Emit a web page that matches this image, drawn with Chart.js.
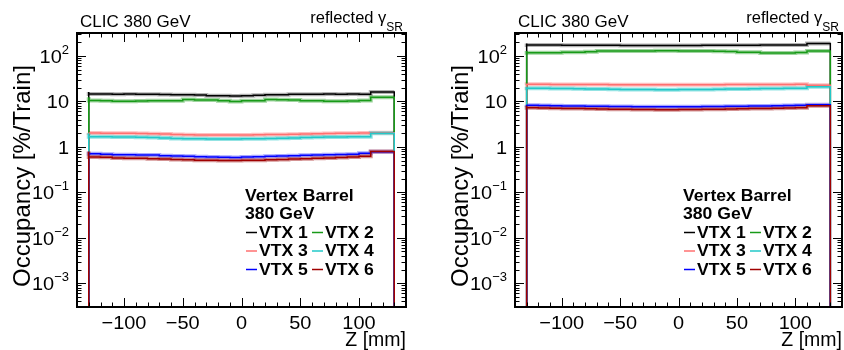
<!DOCTYPE html>
<html>
<head>
<meta charset="utf-8">
<script src="https://cdn.jsdelivr.net/npm/chart.js@4/dist/chart.umd.min.js"></script>
<style>
  body { margin: 0; background: #fff; width: 844px; height: 350px; overflow: hidden; position: relative; }
  canvas { position: absolute; top: 0; }
  #occA { left: 0; }
  #occB { left: 422px; }
</style>
</head>
<body>
<canvas id="occA" width="422" height="350"></canvas>
<canvas id="occB" width="422" height="350"></canvas>
<script>
// bin edges along z [mm], 26 bins of 10 mm
const zEdges = [-130, -120, -110, -100, -90, -80, -70, -60, -50, -40, -30, -20, -10, 0,
                10, 20, 30, 40, 50, 60, 70, 80, 90, 100, 110, 120, 130];

const layerNames = ['VTX 1', 'VTX 2', 'VTX 3', 'VTX 4', 'VTX 5', 'VTX 6'];
const layerColors = ['#000000', '#189a18', '#ff7070', '#22c8c8', '#0000ff', '#a00000'];
const bandColors = ['rgba(0,0,0,0.30)', 'rgba(40,160,40,0.45)', 'rgba(255,130,130,0.50)',
                    'rgba(40,200,200,0.50)', 'rgba(60,60,255,0.45)', 'rgba(170,40,40,0.50)'];

// occupancy [%/train], left panel
const occA_vtx1 = [16.1, 14.5, 14.6, 14.4, 14.5, 14.3, 14.4, 14.2, 14.1, 14.0, 13.9, 13.3, 13.3,
                   13.2, 13.3, 13.6, 14.0, 14.0, 14.3, 14.4, 14.4, 14.5, 14.4, 14.5, 14.4, 16.1];
const occA_vtx2 = [12.3, 10.5, 10.4, 10.1, 10.1, 10.2, 10.3, 10.3, 10.4, 11.0, 10.8, 10.7, 10.3,
                   10.0, 10.3, 10.4, 11.0, 10.9, 10.7, 10.3, 10.3, 10.1, 10.1, 10.2, 10.5, 12.3];
const occA_vtx3 = [2.05, 2.02, 2.0, 2.0, 2.0, 1.97, 1.95, 1.92, 1.88, 1.85, 1.83, 1.82, 1.82,
                   1.83, 1.82, 1.84, 1.86, 1.88, 1.9, 1.93, 1.95, 1.98, 2.0, 2.0, 2.02, 2.05];
const occA_vtx4 = [2.0, 1.66, 1.66, 1.65, 1.64, 1.62, 1.6, 1.56, 1.53, 1.5, 1.5, 1.49, 1.49,
                   1.49, 1.5, 1.5, 1.52, 1.55, 1.57, 1.6, 1.62, 1.64, 1.65, 1.66, 1.68, 2.0];
const occA_vtx5 = [0.78, 0.71, 0.69, 0.67, 0.67, 0.66, 0.66, 0.64, 0.63, 0.62, 0.61, 0.6, 0.59,
                   0.58, 0.6, 0.61, 0.62, 0.63, 0.64, 0.65, 0.66, 0.67, 0.68, 0.69, 0.72, 0.78];
const occA_vtx6 = [0.79, 0.6, 0.59, 0.57, 0.56, 0.56, 0.55, 0.54, 0.53, 0.52, 0.51, 0.51, 0.5,
                   0.5, 0.51, 0.51, 0.52, 0.53, 0.54, 0.55, 0.56, 0.57, 0.58, 0.6, 0.62, 0.79];

// occupancy [%/train], right panel
const occB_vtx1 = [187, 175, 175, 174, 173, 172, 172, 171, 171, 170, 170, 170, 170,
                   170, 170, 170, 171, 171, 172, 172, 173, 174, 174, 175, 175, 187];
const occB_vtx2 = [129, 118, 118, 118, 120, 121, 124, 128, 129, 129, 128, 129, 131,
                   131, 129, 128, 128, 127, 126, 121, 120, 116, 116, 116, 119, 129];
const occB_vtx3 = [22.6, 23.8, 23.8, 23.7, 23.7, 23.6, 23.5, 23.5, 23.4, 23.3, 23.3, 23.3, 23.2,
                   23.2, 23.3, 23.3, 23.3, 23.4, 23.5, 23.5, 23.6, 23.6, 23.7, 23.7, 23.8, 22.6];
const occB_vtx4 = [21.1, 19.4, 19.4, 19.3, 19.2, 19.0, 18.8, 18.7, 18.5, 18.4, 18.3, 18.2, 18.1,
                   18.1, 18.2, 18.3, 18.4, 18.5, 18.7, 18.8, 19.0, 19.2, 19.3, 19.4, 19.4, 21.1];
const occB_vtx5 = [8.45, 8.2, 8.1, 8.0, 7.9, 7.9, 7.8, 7.8, 7.7, 7.7, 7.6, 7.6, 7.6,
                   7.6, 7.6, 7.6, 7.7, 7.7, 7.8, 7.8, 7.9, 7.9, 8.0, 8.1, 8.2, 8.45];
const occB_vtx6 = [8.0, 7.3, 7.2, 7.1, 7.0, 7.0, 6.9, 6.8, 6.7, 6.7, 6.6, 6.6, 6.55,
                   6.55, 6.6, 6.6, 6.7, 6.7, 6.8, 6.9, 7.0, 7.0, 7.1, 7.2, 7.3, 8.0];

// axis ticks
const zTickValues = [-100, -50, 0, 50, 100];
const zTickLabels = ['\u2212100', '\u221250', '0', '50', '100'];
const yDecades = [-3, -2, -1, 0, 1, 2];

const Y_MIN = 3e-4, Y_MAX = 320, FLOOR = 1e-6;
const FONT = '"Liberation Sans", Arial, sans-serif';

// histogram outline: drops to the floor at both ends
function histPoints(vals) {
  const last = zEdges.length - 1;
  const pts = [{x: zEdges[0], y: FLOOR}];
  vals.forEach((v, i) => pts.push({x: zEdges[i], y: v}));
  pts.push({x: zEdges[last], y: vals[vals.length - 1]});
  pts.push({x: zEdges[last], y: FLOOR});
  return pts;
}
function bandPoints(vals) {
  const pts = vals.map((v, i) => ({x: zEdges[i], y: v}));
  pts.push({x: zEdges[zEdges.length - 1], y: vals[vals.length - 1]});
  return pts;
}

function put(ctx, str, x, y, size, opt) {
  opt = opt || {};
  const sx = opt.sx || 1;
  ctx.save();
  ctx.font = (opt.bold ? 'bold ' : '') + size + 'px ' + FONT;
  ctx.textBaseline = 'alphabetic';
  ctx.textAlign = 'left';
  const w = ctx.measureText(str).width * sx;
  let x0 = x;
  if (opt.align === 'right') x0 = x - w;
  else if (opt.align === 'center') x0 = x - w / 2;
  ctx.translate(x0, y);
  ctx.scale(sx, 1);
  ctx.fillStyle = opt.color || '#000';
  ctx.fillText(str, 0, 0);
  ctx.restore();
  return w;
}
function textWidth(ctx, str, size, opt) {
  opt = opt || {};
  ctx.save();
  ctx.font = (opt.bold ? 'bold ' : '') + size + 'px ' + FONT;
  const w = ctx.measureText(str).width * (opt.sx || 1);
  ctx.restore();
  return w;
}
function seg(ctx, x1, y1, x2, y2) {
  ctx.beginPath(); ctx.moveTo(x1, y1); ctx.lineTo(x2, y2); ctx.stroke();
}

// ROOT-like frame, inner ticks, labels, titles and legend
const rootFrame = {
  id: 'rootFrame',
  afterDraw(chart) {
    const ctx = chart.ctx, a = chart.chartArea;
    const xs = chart.scales.x, ys = chart.scales.y;
    ctx.save();
    ctx.strokeStyle = '#000';
    ctx.lineWidth = 1;

    // z ticks, top and bottom
    for (let z = -130; z <= 130; z += 10) {
      const px = Math.round(xs.getPixelForValue(z)) + 0.5;
      const len = zTickValues.includes(z) ? 9 : 4.5;
      seg(ctx, px, a.bottom, px, a.bottom - len);
      seg(ctx, px, a.top, px, a.top + len);
    }
    // log ticks, left and right
    for (let d = -4; d <= 2; d++) {
      for (let m = 1; m <= 9; m++) {
        const v = m * Math.pow(10, d);
        if (v < Y_MIN || v > Y_MAX) continue;
        const py = Math.round(ys.getPixelForValue(v)) + 0.5;
        const len = m === 1 ? 9 : 4.5;
        seg(ctx, a.left, py, a.left + len, py);
        seg(ctx, a.right, py, a.right - len, py);
      }
    }
    ctx.lineWidth = 2;
    ctx.strokeRect(a.left, a.top, a.right - a.left, a.bottom - a.top);
    ctx.restore();

    // z tick labels
    zTickValues.forEach((v, i) => {
      put(ctx, zTickLabels[i], xs.getPixelForValue(v), a.bottom + 22, 19, {align: 'center', sx: 1.05});
    });
    // decade labels
    yDecades.forEach(e => {
      const py = ys.getPixelForValue(Math.pow(10, e));
      const xr = a.left - 8;
      if (e === 0) { put(ctx, '1', xr, py + 7, 19, {align: 'right', sx: 1.05}); return; }
      if (e === 1) { put(ctx, '10', xr, py + 7, 19, {align: 'right', sx: 1.05}); return; }
      const sup = e < 0 ? '\u2212' + (-e) : String(e);
      const ws = textWidth(ctx, sup, 13);
      const wb = textWidth(ctx, '10', 19, {sx: 1.05});
      put(ctx, '10', xr - ws - wb, py + 7, 19, {sx: 1.05});
      put(ctx, sup, xr - ws, py - 2, 13);
    });

    // axis titles
    put(ctx, 'Z [mm]', a.right, a.bottom + 39, 19.5, {align: 'right'});
    ctx.save();
    ctx.translate(a.left - 47, (a.top + a.bottom) / 2 + 6);
    ctx.rotate(-Math.PI / 2);
    ctx.font = '24px ' + FONT;
    ctx.textAlign = 'center';
    ctx.textBaseline = 'alphabetic';
    ctx.fillStyle = '#000';
    ctx.fillText('Occupancy [%/Train]', 0, 0);
    ctx.restore();

    // header line
    put(ctx, 'CLIC 380 GeV', a.left + 3, 26.5, 17);
    const wSub = textWidth(ctx, 'SR', 12);
    const xEnd = a.right - 3;
    put(ctx, 'reflected \u03b3', xEnd - wSub, 23, 16.5, {align: 'right'});
    put(ctx, 'SR', xEnd - wSub, 31, 12);

    // legend
    const lx = a.left + 168;
    put(ctx, 'Vertex Barrel', lx, 201, 16, {bold: true, sx: 1.1});
    put(ctx, '380 GeV', lx, 219, 16, {bold: true, sx: 1.1});
    const rows = [237.5, 256, 274.5];
    layerNames.forEach((name, i) => {
      const col = i % 2, row = Math.floor(i / 2);
      const x0 = lx + 1 + col * 66;
      const yb = rows[row];
      ctx.save();
      ctx.strokeStyle = layerColors[i];
      ctx.lineWidth = 1.5;
      seg(ctx, x0, yb - 5, x0 + 11, yb - 5);
      ctx.restore();
      put(ctx, name, x0 + 13, yb, 16, {bold: true, sx: 1.1});
    });
  }
};

function buildPanel(canvasId, series, padRight, padLeft) {
  const datasets = [];
  series.forEach((vals, i) => {
    datasets.push({
      label: layerNames[i],
      data: histPoints(vals),
      borderColor: layerColors[i],
      borderWidth: 1.5,
      stepped: 'after',
      pointRadius: 0,
      order: 10 - i
    });
    datasets.push({
      label: layerNames[i] + ' err',
      data: bandPoints(vals),
      borderColor: bandColors[i],
      borderWidth: 4,
      stepped: 'after',
      pointRadius: 0,
      order: 20 - i
    });
  });
  return new Chart(document.getElementById(canvasId), {
    type: 'line',
    data: {datasets: datasets},
    options: {
      responsive: false,
      animation: false,
      layout: {padding: {left: padLeft, right: padRight, top: 33, bottom: 43}},
      scales: {
        x: {type: 'linear', min: -140, max: 140, display: false},
        y: {type: 'logarithmic', min: Y_MIN, max: Y_MAX, display: false}
      },
      plugins: {legend: {display: false}, tooltip: {enabled: false}}
    },
    plugins: [rootFrame]
  });
}

buildPanel('occA', [occA_vtx1, occA_vtx2, occA_vtx3, occA_vtx4, occA_vtx5, occA_vtx6], 16, 77);
buildPanel('occB', [occB_vtx1, occB_vtx2, occB_vtx3, occB_vtx4, occB_vtx5, occB_vtx6], 2, 93);
</script>
</body>
</html>
